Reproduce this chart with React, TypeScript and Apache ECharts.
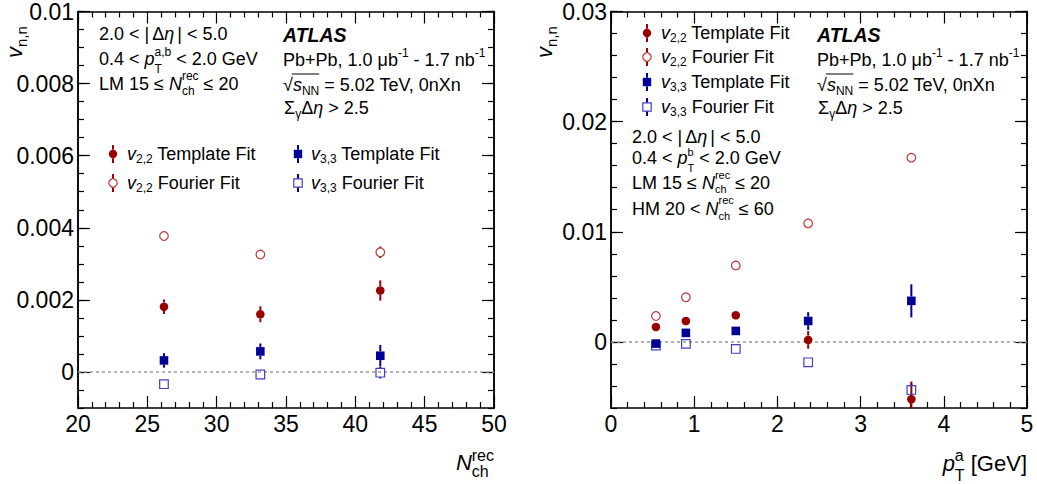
import React, { useEffect, useRef } from "react";
import * as echarts from "echarts";

// ---------------- data ----------------
const nchX = [26.2, 33.15, 41.8];
const nchV22Template = [0.00181, 0.0016, 0.00226];
const nchV22TemplateErr = [0.0002, 0.00022, 0.00028];
const nchV22Fourier = [0.00377, 0.00326, 0.00332];
const nchV22FourierErr = [0.00004, 0.00004, 0.00016];
const nchV33Template = [0.00032, 0.00057, 0.00045];
const nchV33TemplateErr = [0.0002, 0.00022, 0.0003];
const nchV33Fourier = [-0.00034, -0.00007, -0.00002];
const nchV33FourierErr = [0.00003, 0.00005, 0.00016];

const ptX = [0.54, 0.9, 1.5, 2.37, 3.61];
const ptV22Template = [0.00136, 0.0019, 0.00242, 0.00018, -0.0052];
const ptV22TemplateErr = [0.0002, 0.0002, 0.0003, 0.0008, 0.0016];
const ptV22Fourier = [0.00236, 0.00406, 0.00694, 0.01076, 0.01673];
const ptV22FourierErr = [0.0001, 0.0001, 0.0001, 0.0001, 0.0004];
const ptV33Template = [-0.00015, 0.00082, 0.001, 0.0019, 0.00373];
const ptV33TemplateErr = [0.0002, 0.0002, 0.0003, 0.0008, 0.0015];
const ptV33Fourier = [-0.00033, -0.00018, -0.00064, -0.00185, -0.00436];
const ptV33FourierErr = [0.0001, 0.0001, 0.0001, 0.0002, 0.0006];

const nchXRange = [20, 50];
const nchYRange = [-0.001, 0.01];
const ptXRange = [0, 5];
const ptYRange = [-0.006, 0.03];
const nchYMajor = [0, 0.002, 0.004, 0.006, 0.008, 0.01];
const ptYMajor = [0, 0.01, 0.02, 0.03];
const nchYMinorStep = 0.0005;
const ptYMinorStep = 0.002;

// ---------------- style ----------------
const FONT = '"Liberation Sans", Arial, Helvetica, sans-serif';
const RED = "#990000";
const RED_OPEN = "#c03434";
const BLUE = "#000099";
const BLUE_OPEN = "#4040c4";
const MARK_R = 4.3;

function stepValues(min: number, max: number, step: number) {
  const out: number[] = [];
  const n = Math.round((max - min) / step);
  for (let i = 0; i <= n; i++) out.push(+(min + i * step).toFixed(6));
  return out;
}

let mctx: CanvasRenderingContext2D | null = null;
function measure(t: string, size: number, italic = false, bold = false) {
  if (!mctx) mctx = document.createElement("canvas").getContext("2d");
  mctx!.font = `${italic ? "italic " : ""}${bold ? "bold " : ""}${size}px ${FONT}`;
  return mctx!.measureText(t).width;
}

function txt(t: string, x: number, y: number, size: number, italic: boolean, bold: boolean, color = "#000") {
  return {
    type: "text",
    x,
    y,
    silent: true,
    style: {
      text: t,
      fontSize: size,
      fontFamily: FONT,
      fontStyle: italic ? "italic" : "normal",
      fontWeight: bold ? "bold" : "normal",
      fill: color,
      align: "left",
      verticalAlign: "middle",
    },
  };
}

type Tok = {
  t?: string;
  s?: number;
  i?: boolean;
  b?: boolean;
  dy?: number;
  dx?: number;
  sup?: string;
  sub?: string;
  supDy?: number;
  subDy?: number;
  ss?: number;
};

function layout(toks: Tok[], base: number) {
  let x = 0;
  const items: any[] = [];
  const pos: number[] = [];
  for (const k of toks) {
    x += k.dx || 0;
    pos.push(x);
    if (k.sup !== undefined || k.sub !== undefined) {
      const ss = k.ss || 12;
      let w = 0;
      if (k.sup) {
        items.push(txt(k.sup, x, k.supDy ?? -0.4 * base, ss, false, false));
        w = Math.max(w, measure(k.sup, ss));
      }
      if (k.sub) {
        items.push(txt(k.sub, x, k.subDy ?? 0.4 * base, ss, false, false));
        w = Math.max(w, measure(k.sub, ss));
      }
      x += w;
    } else {
      const s = k.s || base;
      items.push(txt(k.t!, x, k.dy || 0, s, !!k.i, !!k.b));
      x += measure(k.t!, s, !!k.i, !!k.b);
    }
  }
  return { items, width: x, pos };
}

function textLine(x: number, y: number, toks: Tok[], base = 18, alignRight = false) {
  const l = layout(toks, base);
  return { type: "group", x: alignRight ? x - l.width : x, y, children: l.items };
}

function sqrtLine(x: number, y: number, base = 18) {
  const toks: Tok[] = [
    { t: "√" },
    { t: "s", i: true },
    { sub: "NN", subDy: 6 },
    { t: " = 5.02 TeV, 0nXn" },
  ];
  const l = layout(toks, base);
  const wr = measure("√", base);
  const endNN = l.pos[3];
  l.items.push({
    type: "line",
    silent: true,
    shape: { x1: wr - 1, y1: -11, x2: endNN, y2: -11 },
    style: { stroke: "#000", lineWidth: 1 },
  });
  return { type: "group", x, y, children: l.items };
}

function legendMarker(x: number, y: number, kind: string) {
  const filled = kind === "fc" || kind === "fs";
  const isCircle = kind === "fc" || kind === "oc";
  const lineCol = kind === "fc" || kind === "oc" ? RED : BLUE;
  const col = filled ? lineCol : isCircle ? RED_OPEN : BLUE_OPEN;
  const children: any[] = [
    { type: "line", shape: { x1: 0, y1: -9, x2: 0, y2: -MARK_R }, style: { stroke: lineCol, lineWidth: 2 } },
    { type: "line", shape: { x1: 0, y1: MARK_R, x2: 0, y2: 9 }, style: { stroke: lineCol, lineWidth: 2 } },
  ];
  if (isCircle) {
    children.push({
      type: "circle",
      shape: { cx: 0, cy: 0, r: 4.2 },
      style: filled ? { fill: col } : { fill: "rgba(255,255,255,0)", stroke: col, lineWidth: 1.2 },
    });
  } else {
    children.push({
      type: "rect",
      shape: { x: -4.2, y: -4.2, width: 8.4, height: 8.4 },
      style: filled ? { fill: col } : { fill: "rgba(255,255,255,0)", stroke: col, lineWidth: 1.2 },
    });
  }
  return { type: "group", x, y, silent: true, children };
}

function legendText(x: number, y: number, sub: string, label: string) {
  return textLine(x, y, [{ t: "v", i: true }, { sub, subDy: 5 }, { t: " " + label }]);
}

// ---------------- axes ----------------
const axisLine = { show: true, onZero: false, lineStyle: { color: "#000", width: 1.5 } };
const tickLine = { color: "#000", width: 1.2 };

function xAx(grid: number, pos: string, range: number[], interval: number, labels: boolean) {
  return {
    type: "value",
    gridIndex: grid,
    position: pos,
    min: range[0],
    max: range[1],
    interval,
    axisLine,
    axisTick: { show: true, inside: true, length: 12, lineStyle: tickLine },
    minorTick: { show: true, splitNumber: 5, length: 6, lineStyle: tickLine },
    splitLine: { show: false },
    minorSplitLine: { show: false },
    axisLabel: { show: labels, fontSize: 23, color: "#000", margin: 4, fontFamily: FONT },
  };
}

function fmtY(v: number) {
  return String(parseFloat(Number(v).toFixed(5)));
}

function yAx(grid: number, pos: string, range: number[], ticks: number[], len: number, labels: boolean) {
  return {
    type: "value",
    gridIndex: grid,
    position: pos,
    min: range[0],
    max: range[1],
    axisLine,
    axisTick: { show: true, inside: true, length: len, customValues: ticks, lineStyle: tickLine },
    splitLine: { show: false },
    axisLabel: {
      show: labels,
      customValues: ticks,
      formatter: fmtY,
      fontSize: 23,
      color: "#000",
      margin: 4,
      fontFamily: FONT,
    },
  };
}

// ---------------- series helpers ----------------
function errSeries(xs: number[], ys: number[], es: number[], color: string, xi: number, yi: number) {
  return {
    type: "custom",
    xAxisIndex: xi,
    yAxisIndex: yi,
    silent: true,
    z: 2,
    data: xs.map((x, i) => [x, ys[i], ys[i] - es[i], ys[i] + es[i]]),
    renderItem: (params: any, api: any) => {
      const cs = params.coordSys;
      const c = api.coord([api.value(0), api.value(1)]);
      const lo = api.coord([api.value(0), api.value(2)]);
      const hi = api.coord([api.value(0), api.value(3)]);
      const clamp = (v: number) => Math.max(cs.y, Math.min(cs.y + cs.height, v));
      const children: any[] = [];
      const yLo = clamp(lo[1]);
      const yHi = clamp(hi[1]);
      if (yLo > c[1] + MARK_R) {
        children.push({
          type: "line",
          shape: { x1: c[0], y1: c[1] + MARK_R, x2: c[0], y2: yLo },
          style: { stroke: color, lineWidth: 2 },
        });
      }
      if (yHi < c[1] - MARK_R) {
        children.push({
          type: "line",
          shape: { x1: c[0], y1: yHi, x2: c[0], y2: c[1] - MARK_R },
          style: { stroke: color, lineWidth: 2 },
        });
      }
      return { type: "group", children };
    },
  };
}

function markSeries(xs: number[], ys: number[], kind: string, xi: number, yi: number) {
  const filled = kind === "fc" || kind === "fs";
  const isCircle = kind === "fc" || kind === "oc";
  const col = isCircle ? (filled ? RED : RED_OPEN) : filled ? BLUE : BLUE_OPEN;
  return {
    type: "scatter",
    xAxisIndex: xi,
    yAxisIndex: yi,
    silent: true,
    z: 3,
    symbol: isCircle ? "circle" : "rect",
    symbolSize: 8.6,
    data: xs.map((x, i) => [x, ys[i]]),
    itemStyle: filled
      ? { color: col, opacity: 1 }
      : { color: "rgba(255,255,255,0)", borderColor: col, borderWidth: 1.2, opacity: 1 },
  };
}

function zeroLine(range: number[], xi: number, yi: number) {
  return {
    type: "line",
    xAxisIndex: xi,
    yAxisIndex: yi,
    silent: true,
    z: 1,
    symbol: "none",
    data: [
      [range[0], 0],
      [range[1], 0],
    ],
    lineStyle: { color: "#999", width: 1.5, type: [3, 3] },
  };
}

function panelSeries(
  xs: number[],
  sets: { y: number[]; e: number[]; kind: string; ec: string }[],
  xi: number,
  yi: number,
  xr: number[]
) {
  const out: any[] = [zeroLine(xr, xi, yi)];
  for (const s of sets) {
    out.push(errSeries(xs, s.y, s.e, s.ec, xi, yi));
    out.push(markSeries(xs, s.y, s.kind, xi, yi));
  }
  return out;
}

export default function App() {
  const ref = useRef<HTMLDivElement>(null);

  useEffect(() => {
    if (!ref.current) return;
    const chart = echarts.init(ref.current, undefined, { renderer: "svg" });

    const nchMinor = stepValues(nchYRange[0], nchYRange[1], nchYMinorStep);
    const ptMinor = stepValues(ptYRange[0], ptYRange[1], ptYMinorStep);

    const etaLine: Tok[] = [{ t: "2.0 < |" }, { t: "Δ", dx: 3 }, { t: "η", i: true }, { t: "|", dx: 3 }, { t: " < 5.0" }];
    const pbLine: Tok[] = [{ t: "Pb+Pb, 1.0 μb" }, { sup: "-1", supDy: -7 }, { t: " - 1.7 nb" }, { sup: "-1", supDy: -7 }];
    const gapLine: Tok[] = [{ t: "Σ" }, { sub: "γ", subDy: 6 }, { t: "Δ" }, { t: "η", i: true }, { t: " > 2.5" }];

    const graphics: any[] = [];
    // ---- left panel annotations
    graphics.push(textLine(99, 34, etaLine));
    graphics.push(textLine(99, 59, [{ t: "0.4 < " }, { t: "p", i: true }, { sup: "a,b", sub: "T", supDy: -7, subDy: 10 }, { t: " < 2.0 GeV" }]));
    graphics.push(textLine(99, 84, [{ t: "LM 15 ≤ " }, { t: "N", i: true }, { sup: "rec", sub: "ch", supDy: -8, subDy: 7 }, { t: " ≤ 20" }]));
    graphics.push(textLine(283, 35, [{ t: "ATLAS", i: true, b: true, s: 19.5 }]));
    graphics.push(textLine(283, 60, pbLine));
    graphics.push(sqrtLine(283, 85));
    graphics.push(textLine(284, 108, gapLine));
    graphics.push(legendMarker(113, 154, "fc"));
    graphics.push(legendText(127, 154, "2,2", "Template Fit"));
    graphics.push(legendMarker(113, 183, "oc"));
    graphics.push(legendText(127, 183, "2,2", "Fourier Fit"));
    graphics.push(legendMarker(298, 154, "fs"));
    graphics.push(legendText(311, 154, "3,3", "Template Fit"));
    graphics.push(legendMarker(298, 183, "os"));
    graphics.push(legendText(311, 183, "3,3", "Fourier Fit"));

    // ---- right panel annotations
    graphics.push(legendMarker(647, 33, "fc"));
    graphics.push(legendText(661, 33, "2,2", "Template Fit"));
    graphics.push(legendMarker(647, 57, "oc"));
    graphics.push(legendText(661, 57, "2,2", "Fourier Fit"));
    graphics.push(legendMarker(647, 82, "fs"));
    graphics.push(legendText(661, 82, "3,3", "Template Fit"));
    graphics.push(legendMarker(647, 107, "os"));
    graphics.push(legendText(661, 107, "3,3", "Fourier Fit"));
    graphics.push(textLine(632, 137, etaLine));
    graphics.push(textLine(632, 158, [{ t: "0.4 < " }, { t: "p", i: true }, { sup: "b", sub: "T", ss: 11, supDy: -6.5, subDy: 10 }, { t: " < 2.0 GeV" }]));
    graphics.push(textLine(632, 183, [{ t: "LM 15 ≤ " }, { t: "N", i: true }, { sup: "rec", sub: "ch", ss: 11, supDy: -8, subDy: 6 }, { t: " ≤ 20" }]));
    graphics.push(textLine(632, 209, [{ t: "HM 20 < " }, { t: "N", i: true }, { sup: "rec", sub: "ch", ss: 11, supDy: -9, subDy: 7 }, { t: " ≤ 60" }]));
    graphics.push(textLine(817, 35, [{ t: "ATLAS", i: true, b: true, s: 19.5 }]));
    graphics.push(textLine(817, 60, pbLine));
    graphics.push(sqrtLine(817, 85));
    graphics.push(textLine(818, 108, gapLine));

    // ---- axis titles
    const yTitle = (x: number) => {
      const l = layout([{ t: "v", i: true }, { sub: "n,n", ss: 15, subDy: 7 }], 22);
      return { type: "group", x, y: 58, rotation: Math.PI / 2, children: l.items };
    };
    graphics.push(yTitle(14));
    graphics.push(yTitle(544));
    graphics.push(textLine(494, 462, [{ t: "N", i: true }, { sup: "rec", sub: "ch", ss: 16, supDy: -7, subDy: 9 }], 22, true));
    graphics.push(textLine(1027, 463, [{ t: "p", i: true }, { sup: "a", sub: "T", ss: 16, supDy: -8, subDy: 12 }, { t: " [GeV]" }], 22, true));

    const option: any = {
      animation: false,
      backgroundColor: "#fff",
      textStyle: { fontFamily: FONT },
      grid: [
        { left: 78, top: 9, width: 416, height: 399 },
        { left: 611, top: 9, width: 416, height: 399 },
      ],
      xAxis: [
        xAx(0, "bottom", nchXRange, 5, true),
        xAx(0, "top", nchXRange, 5, false),
        xAx(1, "bottom", ptXRange, 1, true),
        xAx(1, "top", ptXRange, 1, false),
      ],
      yAxis: [
        yAx(0, "left", nchYRange, nchYMajor, 12, true),
        yAx(0, "left", nchYRange, nchMinor, 6, false),
        yAx(0, "right", nchYRange, nchYMajor, 12, false),
        yAx(0, "right", nchYRange, nchMinor, 6, false),
        yAx(1, "left", ptYRange, ptYMajor, 12, true),
        yAx(1, "left", ptYRange, ptMinor, 6, false),
        yAx(1, "right", ptYRange, ptYMajor, 12, false),
        yAx(1, "right", ptYRange, ptMinor, 6, false),
      ],
      series: [
        ...panelSeries(
          nchX,
          [
            { y: nchV22Fourier, e: nchV22FourierErr, kind: "oc", ec: RED },
            { y: nchV33Fourier, e: nchV33FourierErr, kind: "os", ec: BLUE },
            { y: nchV22Template, e: nchV22TemplateErr, kind: "fc", ec: RED },
            { y: nchV33Template, e: nchV33TemplateErr, kind: "fs", ec: BLUE },
          ],
          0,
          0,
          nchXRange
        ),
        ...panelSeries(
          ptX,
          [
            { y: ptV22Fourier, e: ptV22FourierErr, kind: "oc", ec: RED },
            { y: ptV33Fourier, e: ptV33FourierErr, kind: "os", ec: BLUE },
            { y: ptV33Template, e: ptV33TemplateErr, kind: "fs", ec: BLUE },
            { y: ptV22Template, e: ptV22TemplateErr, kind: "fc", ec: RED },
          ],
          2,
          4,
          ptXRange
        ),
      ],
      graphic: graphics,
    };
    chart.setOption(option);
    return () => chart.dispose();
  }, []);

  return (
    <div
      ref={ref}
      style={{ position: "fixed", left: 0, top: 0, width: 1037, height: 484, background: "#fff" }}
    />
  );
}
